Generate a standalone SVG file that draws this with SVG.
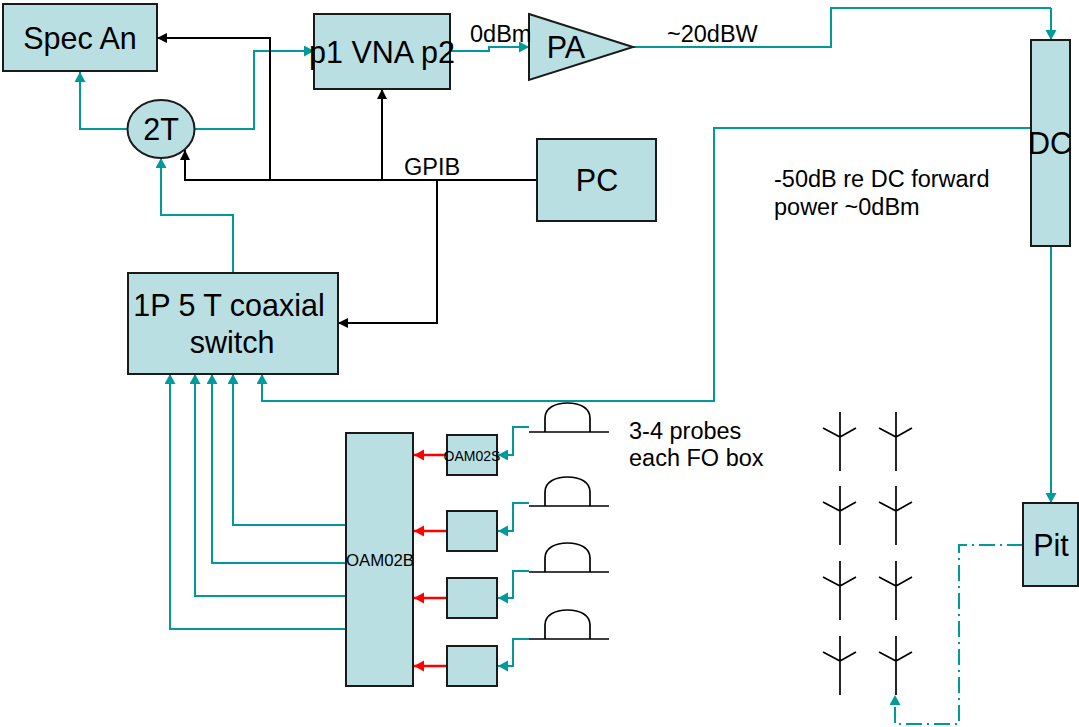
<svg xmlns="http://www.w3.org/2000/svg" width="1079" height="727" viewBox="0 0 1079 727">
<style>
text{font-family:"Liberation Sans",Arial,sans-serif;fill:#000}
.n{fill:#b9dfe3;stroke:#1a1a1a;stroke-width:2}
.t{fill:none;stroke:#009a9a;stroke-width:2}
.k{fill:none;stroke:#000;stroke-width:2}
.r{fill:none;stroke:#f00;stroke-width:2.5}
.a{fill:none;stroke:#000;stroke-width:1.7}
.big{font-size:30.500px;text-anchor:middle}
.mid{font-size:23.500px}
.sm{font-size:16.800px;text-anchor:middle}
</style>
<defs>
<marker id="at" markerUnits="userSpaceOnUse" markerWidth="12" markerHeight="12" refX="10" refY="5.500" orient="auto"><path d="M0 0L10 5.500L0 11Z" fill="#009a9a"/></marker>
<marker id="ak" markerUnits="userSpaceOnUse" markerWidth="12" markerHeight="12" refX="10" refY="5" orient="auto"><path d="M0 0L10 5L0 10Z" fill="#000"/></marker>
<marker id="ar" markerUnits="userSpaceOnUse" markerWidth="12" markerHeight="12" refX="10" refY="5.500" orient="auto"><path d="M0 0L10 5.500L0 11Z" fill="#f00"/></marker>
<g id="ant"><path class="a" d="M0 0V59M-17 16L0 25L16 16"/></g>
<g id="probe"><path class="a" d="M0 42H80M16 42V28C16 18 26 13 38.500 13C51 13 61 18 61 28V42"/></g>
</defs>
<g id="connectors">
<path class="t" marker-end="url(#at)" d="M128 129H80V72"/>
<path class="t" marker-end="url(#at)" d="M195 129H254V51H314"/>
<path class="t" marker-end="url(#at)" d="M233 272V215H161V158"/>
<path class="k" marker-end="url(#ak)" d="M270 180V38H157"/>
<path class="k" marker-end="url(#ak)" d="M537 180H185V150"/>
<path class="k" marker-end="url(#ak)" d="M382 180V89"/>
<path class="k" marker-end="url(#ak)" d="M437 180V323H338"/>
<path class="t" marker-end="url(#at)" d="M450 51H489V47H529"/>
<path class="t" d="M633 47H831V8H1051"/>
<path class="t" marker-end="url(#at)" d="M1051 8V40"/>
<path class="t" marker-end="url(#at)" d="M1031 128H714V401H262V374"/>
<path class="t" marker-end="url(#at)" d="M1051 246V503"/>
<path class="t" marker-end="url(#at)" d="M346 525H233V374"/>
<path class="t" marker-end="url(#at)" d="M346 563H212V374"/>
<path class="t" marker-end="url(#at)" d="M346 596H195V374"/>
<path class="t" marker-end="url(#at)" d="M346 629H170V374"/>
<path class="r" marker-end="url(#ar)" d="M447 455H414"/>
<path class="r" marker-end="url(#ar)" d="M447 531H414"/>
<path class="r" marker-end="url(#ar)" d="M447 598H414"/>
<path class="r" marker-end="url(#ar)" d="M447 666H414"/>
<path class="t" marker-end="url(#at)" d="M529 427H513V455H498"/>
<path class="t" marker-end="url(#at)" d="M529 503H513V531H498"/>
<path class="t" marker-end="url(#at)" d="M529 571H513V598H498"/>
<path class="t" marker-end="url(#at)" d="M529 639H513V666H498"/>
<path class="t" stroke-dasharray="16 5 2 5" marker-end="url(#at)" d="M1023 545H959V724H895V695"/>
</g>
<g id="spec"><rect class="n" x="3" y="4" width="154" height="67"/><text class="big" x="80" y="49">Spec An</text></g>
<g id="vna"><rect class="n" x="314" y="14" width="136" height="75"/><text class="big" x="382" y="63">p1 VNA p2</text></g>
<g id="pa"><path class="n" d="M529 14L633 47L529 80Z"/><text class="big" x="566" y="58">PA</text></g>
<g id="t2"><ellipse class="n" cx="161" cy="129" rx="33.500" ry="29"/><text class="big" x="161" y="140">2T</text></g>
<g id="pc"><rect class="n" x="537" y="139" width="119" height="82"/><text class="big" x="597" y="191">PC</text></g>
<g id="switch"><rect class="n" x="128" y="273" width="210" height="101"/><text class="big" x="229" y="316">1P 5 T coaxial</text><text class="big" x="232" y="353">switch</text></g>
<g id="dc"><rect class="n" x="1031" y="40" width="39" height="206"/><text class="big" x="1050" y="154">DC</text></g>
<g id="pit"><rect class="n" x="1023" y="503" width="55" height="83"/><text class="big" x="1051" y="556">Pit</text></g>
<g id="oam02b"><rect class="n" x="346" y="433" width="67" height="253"/><text class="sm" x="380" y="566">OAM02B</text></g>
<g id="oam02s"><rect class="n" x="447" y="435" width="50" height="40"/><text class="sm" x="472" y="461" style="font-size:14px">OAM02S</text></g>
<g id="box2"><rect class="n" x="447" y="511" width="50" height="40"/></g>
<g id="box3"><rect class="n" x="447" y="578" width="50" height="40"/></g>
<g id="box4"><rect class="n" x="447" y="646" width="50" height="40"/></g>
<g id="probes">
<use href="#probe" x="529" y="390"/><use href="#probe" x="529" y="464"/><use href="#probe" x="529" y="530"/><use href="#probe" x="529" y="597"/>
</g>
<g id="antennas">
<use href="#ant" x="840" y="412"/><use href="#ant" x="896" y="412"/>
<use href="#ant" x="840" y="486"/><use href="#ant" x="896" y="486"/>
<use href="#ant" x="840" y="561"/><use href="#ant" x="896" y="561"/>
<use href="#ant" x="840" y="636"/><use href="#ant" x="896" y="636"/>
</g>
<g id="labels">
<text class="mid" x="470" y="42">0dBm</text>
<text class="mid" x="667" y="42">~20dBW</text>
<text class="mid" x="404" y="175">GPIB</text>
<text class="mid" x="774" y="187">-50dB re DC forward</text>
<text class="mid" x="774" y="215">power ~0dBm</text>
<text class="mid" x="629" y="439">3-4 probes</text>
<text class="mid" x="629" y="466">each FO box</text>
</g>
</svg>
